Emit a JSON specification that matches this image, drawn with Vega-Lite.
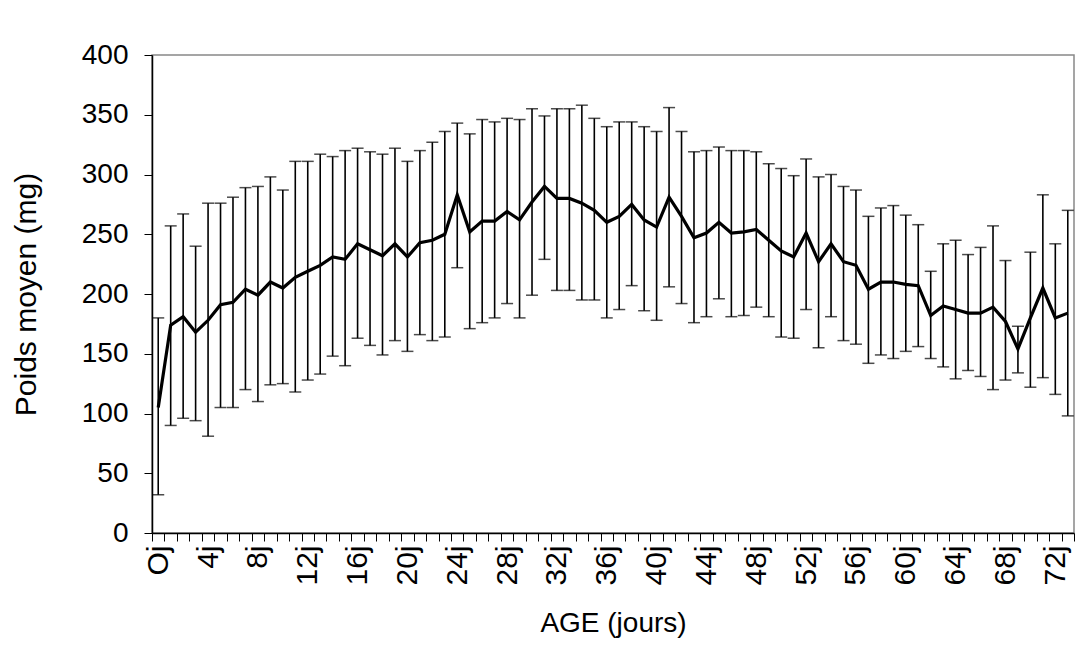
{
  "$schema": "https://vega.github.io/schema/vega-lite/v6.json",
  "width": 922,
  "height": 478,
  "autosize": {"type": "none"},
  "padding": {"left": 152, "top": 55, "right": 3, "bottom": 127},
  "background": "white",
  "config": {
    "view": {"stroke": "#888888", "strokeWidth": 1.5},
    "font": "Liberation Sans",
    "axis": {
      "labelFont": "Liberation Sans",
      "titleFont": "Liberation Sans",
      "labelColor": "black",
      "titleColor": "black",
      "domainColor": "black",
      "tickColor": "black",
      "grid": false,
      "titleFontWeight": "normal"
    }
  },
  "data": {
    "values": [
      {"day": 0, "mean": 105, "lo": 32, "hi": 180},
      {"day": 1, "mean": 174, "lo": 90, "hi": 257},
      {"day": 2, "mean": 181, "lo": 96, "hi": 267},
      {"day": 3, "mean": 168, "lo": 94, "hi": 240},
      {"day": 4, "mean": 178, "lo": 81, "hi": 276},
      {"day": 5, "mean": 191, "lo": 105, "hi": 276},
      {"day": 6, "mean": 193, "lo": 105, "hi": 281},
      {"day": 7, "mean": 204, "lo": 120, "hi": 289},
      {"day": 8, "mean": 199, "lo": 110, "hi": 290},
      {"day": 9, "mean": 210, "lo": 124, "hi": 298},
      {"day": 10, "mean": 205, "lo": 125, "hi": 287},
      {"day": 11, "mean": 214, "lo": 118, "hi": 311},
      {"day": 12, "mean": 219, "lo": 128, "hi": 311},
      {"day": 13, "mean": 224, "lo": 133, "hi": 317},
      {"day": 14, "mean": 231, "lo": 148, "hi": 315},
      {"day": 15, "mean": 229, "lo": 140, "hi": 320},
      {"day": 16, "mean": 242, "lo": 163, "hi": 322},
      {"day": 17, "mean": 237, "lo": 157, "hi": 319},
      {"day": 18, "mean": 232, "lo": 149, "hi": 317},
      {"day": 19, "mean": 242, "lo": 161, "hi": 322},
      {"day": 20, "mean": 231, "lo": 152, "hi": 311},
      {"day": 21, "mean": 243, "lo": 166, "hi": 320},
      {"day": 22, "mean": 245, "lo": 161, "hi": 327},
      {"day": 23, "mean": 250, "lo": 164, "hi": 336},
      {"day": 24, "mean": 283, "lo": 222, "hi": 343},
      {"day": 25, "mean": 252, "lo": 171, "hi": 334},
      {"day": 26, "mean": 261, "lo": 176, "hi": 346},
      {"day": 27, "mean": 261, "lo": 180, "hi": 344},
      {"day": 28, "mean": 269, "lo": 192, "hi": 347},
      {"day": 29, "mean": 262, "lo": 180, "hi": 346},
      {"day": 30, "mean": 277, "lo": 199, "hi": 355},
      {"day": 31, "mean": 290, "lo": 229, "hi": 349},
      {"day": 32, "mean": 280, "lo": 203, "hi": 355},
      {"day": 33, "mean": 280, "lo": 203, "hi": 355},
      {"day": 34, "mean": 276, "lo": 195, "hi": 358},
      {"day": 35, "mean": 270, "lo": 195, "hi": 347},
      {"day": 36, "mean": 260, "lo": 180, "hi": 340},
      {"day": 37, "mean": 265, "lo": 187, "hi": 344},
      {"day": 38, "mean": 275, "lo": 207, "hi": 344},
      {"day": 39, "mean": 262, "lo": 186, "hi": 340},
      {"day": 40, "mean": 256, "lo": 178, "hi": 336},
      {"day": 41, "mean": 281, "lo": 206, "hi": 356},
      {"day": 42, "mean": 265, "lo": 192, "hi": 336},
      {"day": 43, "mean": 247, "lo": 176, "hi": 319},
      {"day": 44, "mean": 251, "lo": 181, "hi": 320},
      {"day": 45, "mean": 260, "lo": 196, "hi": 323},
      {"day": 46, "mean": 251, "lo": 181, "hi": 320},
      {"day": 47, "mean": 252, "lo": 182, "hi": 320},
      {"day": 48, "mean": 254, "lo": 189, "hi": 319},
      {"day": 49, "mean": 245, "lo": 181, "hi": 309},
      {"day": 50, "mean": 236, "lo": 164, "hi": 305},
      {"day": 51, "mean": 231, "lo": 163, "hi": 299},
      {"day": 52, "mean": 251, "lo": 187, "hi": 313},
      {"day": 53, "mean": 227, "lo": 155, "hi": 298},
      {"day": 54, "mean": 242, "lo": 181, "hi": 300},
      {"day": 55, "mean": 227, "lo": 161, "hi": 290},
      {"day": 56, "mean": 224, "lo": 158, "hi": 287},
      {"day": 57, "mean": 204, "lo": 142, "hi": 265},
      {"day": 58, "mean": 210, "lo": 149, "hi": 272},
      {"day": 59, "mean": 210, "lo": 146, "hi": 274},
      {"day": 60, "mean": 208, "lo": 152, "hi": 266},
      {"day": 61, "mean": 207, "lo": 156, "hi": 258},
      {"day": 62, "mean": 182, "lo": 146, "hi": 219},
      {"day": 63, "mean": 190, "lo": 139, "hi": 242},
      {"day": 64, "mean": 187, "lo": 129, "hi": 245},
      {"day": 65, "mean": 184, "lo": 136, "hi": 233},
      {"day": 66, "mean": 184, "lo": 131, "hi": 239},
      {"day": 67, "mean": 189, "lo": 120, "hi": 257},
      {"day": 68, "mean": 177, "lo": 128, "hi": 228},
      {"day": 69, "mean": 154, "lo": 134, "hi": 173},
      {"day": 70, "mean": 180, "lo": 122, "hi": 235},
      {"day": 71, "mean": 205, "lo": 130, "hi": 283},
      {"day": 72, "mean": 180, "lo": 116, "hi": 242},
      {"day": 73, "mean": 184, "lo": 98, "hi": 270}
    ]
  },
  "layer": [
    {
      "mark": {
        "type": "errorbar",
        "color": "black",
        "ticks": {"size": 12, "thickness": 1.5, "color": "black"},
        "rule": {"strokeWidth": 1.6, "color": "black"}
      },
      "encoding": {
        "x": {
          "field": "day",
          "type": "quantitative",
          "scale": {"domain": [-0.5, 73.5], "nice": false, "zero": false},
          "axis": {
            "orient": "bottom",
            "values": [-0.5, 0.5, 1.5, 2.5, 3.5, 4.5, 5.5, 6.5, 7.5, 8.5, 9.5, 10.5, 11.5, 12.5, 13.5, 14.5, 15.5, 16.5, 17.5, 18.5, 19.5, 20.5, 21.5, 22.5, 23.5, 24.5, 25.5, 26.5, 27.5, 28.5, 29.5, 30.5, 31.5, 32.5, 33.5, 34.5, 35.5, 36.5, 37.5, 38.5, 39.5, 40.5, 41.5, 42.5, 43.5, 44.5, 45.5, 46.5, 47.5, 48.5, 49.5, 50.5, 51.5, 52.5, 53.5, 54.5, 55.5, 56.5, 57.5, 58.5, 59.5, 60.5, 61.5, 62.5, 63.5, 64.5, 65.5, 66.5, 67.5, 68.5, 69.5, 70.5, 71.5, 72.5, 73.5],
            "labels": false,
            "ticks": true,
            "tickSize": 8,
            "tickWidth": 1,
            "domain": true,
            "domainWidth": 1.5,
            "title": null
          }
        },
        "y": {
          "field": "lo",
          "type": "quantitative",
          "scale": {"domain": [0, 400], "nice": false},
          "axis": {
            "values": [0, 50, 100, 150, 200, 250, 300, 350, 400],
            "tickSize": 8,
            "tickWidth": 1,
            "domainWidth": 1.5,
            "labelFontSize": 28,
            "labelPadding": 16,
            "title": "Poids moyen (mg)",
            "titleFontSize": 30,
            "titlePadding": 40
          }
        },
        "y2": {"field": "hi"}
      }
    },
    {
      "mark": {"type": "line", "color": "black", "strokeWidth": 3.2},
      "encoding": {
        "x": {
          "field": "day",
          "type": "quantitative",
          "axis": {
            "orient": "bottom",
            "values": [0, 4, 8, 12, 16, 20, 24, 28, 32, 36, 40, 44, 48, 52, 56, 60, 64, 68, 72],
            "labelExpr": "datum.value == 0 ? 'Oj' : datum.value + 'j'",
            "ticks": false,
            "domain": false,
            "labelAngle": -90,
            "labelAlign": "right",
            "labelBaseline": "middle",
            "labelPadding": 12,
            "labelFontSize": 30,
            "title": "AGE (jours)",
            "titleFontSize": 28,
            "titlePadding": 24
          }
        },
        "y": {
          "field": "mean",
          "type": "quantitative",
          "axis": {
            "values": [0, 50, 100, 150, 200, 250, 300, 350, 400],
            "tickSize": 8,
            "tickWidth": 1,
            "domainWidth": 1.5,
            "labelFontSize": 28,
            "labelPadding": 16,
            "title": "Poids moyen (mg)",
            "titleFontSize": 30,
            "titlePadding": 40
          }
        }
      }
    }
  ],
  "resolve": {"axis": {"x": "independent"}}
}
